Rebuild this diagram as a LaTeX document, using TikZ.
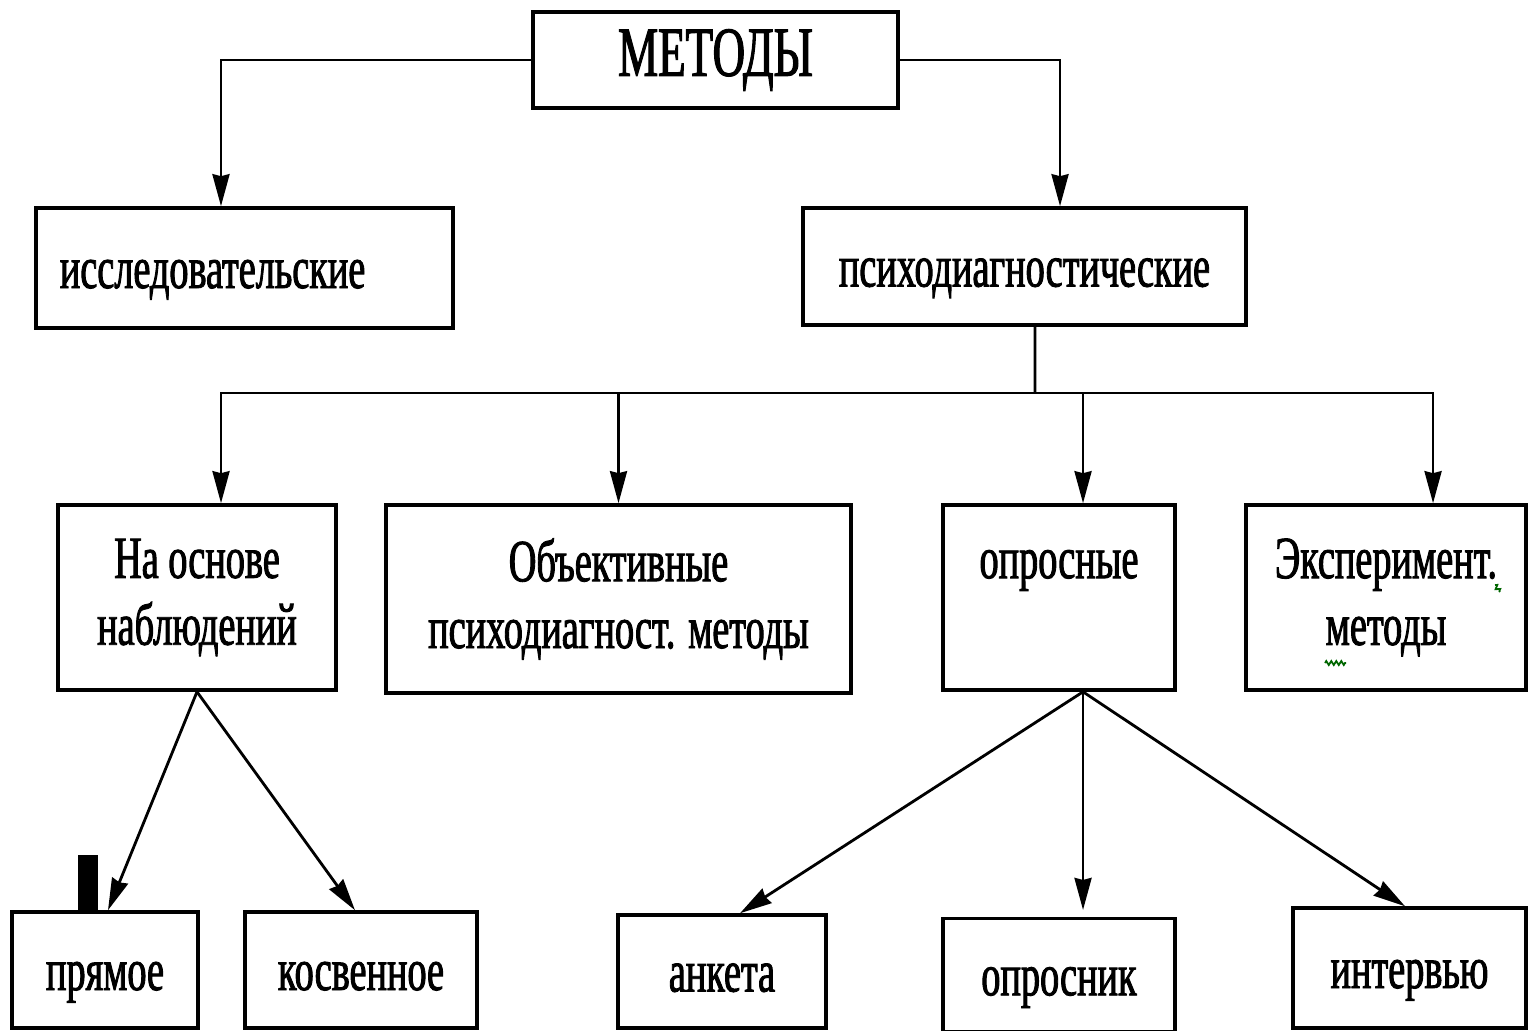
\documentclass[tikz,border=0pt]{standalone}
\usepackage{fontspec}
\setmainfont[FakeStretch=0.64, FakeBold=1.5]{Liberation Serif}
\usetikzlibrary{arrows.meta, positioning, decorations.pathmorphing}

\begin{document}
\begin{tikzpicture} [
	x=0.01cm, y=-0.01cm, % one unit = one pixel of the sketch, y down
	>={Stealth[length=0.32cm, width=0.17cm, inset=0.02cm]}, % filled heads
	box/.style={draw, rectangle, line width=1pt, inner sep=0pt, align=center, font=\fontsize{17}{19}\selectfont}, % every frame
	word/.style={box, text height=0.4cm, text depth=0pt}, % one-line frames, text a bit low
	arr/.style={->, line width=0.8pt}, % connectors
	squiggle/.style={draw=green!40!black, line width=0.5pt, decorate, decoration={zigzag, segment length=0.05cm, amplitude=0.02cm}}, % spell mark
	]
	\useasboundingbox (0,0) rectangle (1528,1030);

	\node[box, minimum width=3.65cm, minimum height=0.96cm, font=\fontsize{20}{22}\selectfont] (metody) at (715.5,60) {МЕТОДЫ};

	\node[word, minimum width=4.17cm, minimum height=1.2cm, text width=3.69cm, inner xsep=0.24cm, align=left] (issl) at (244.5,268) {исследовательские};
	\node[word, minimum width=4.43cm, minimum height=1.17cm] (psy) at (1024.5,266.5) {психодиагностические};

	\node[box, minimum width=2.78cm, minimum height=1.85cm] (nabl) at (197,597.5) {На основе\\наблюдений};
	\node[box, minimum width=4.65cm, minimum height=1.88cm] (obj) at (618.5,599) {Объективные\\психодиагност. методы};
	\node[box, minimum width=2.32cm, minimum height=1.85cm] (opr) at (1059,597.5) {опросные\\\mbox{}};
	\node[box, minimum width=2.80cm, minimum height=1.85cm] (exp) at (1386,597.5) {Эксперимент.\\методы};

	\node[word, minimum width=1.86cm, minimum height=1.16cm] (pryam) at (105,970) {прямое};
	\node[word, minimum width=2.32cm, minimum height=1.16cm] (kosv) at (361,970) {косвенное};
	\node[word, minimum width=2.08cm, minimum height=1.13cm] (anketa) at (722,971.5) {анкета};
	\node[word, minimum width=2.32cm, minimum height=1.13cm, below=2.25cm of opr] (oprosnik) {опросник};
	\node[word, minimum width=2.33cm, minimum height=1.2cm] (interv) at (1409.5,968) {интервью};

	\fill (78,855) rectangle (98,912);
	\path[squiggle] (1325,663) -- (1346,663);
	\path[squiggle] (1495,585) -- (1500,592);

	\coordinate (bus) at (1035,393);

	\draw[arr] (metody.west) -| ([xshift=-0.235cm]issl.north);
	\draw[arr] (metody.east) -| ([xshift=0.355cm]psy.north);
	\draw[line width=0.8pt] ([xshift=0.105cm]psy.south) -- (bus);
	\draw[line width=0.8pt] (bus) -- ++(-8.14cm,0);
	\foreach \t/\dx in {nabl/0.24, obj/0, opr/0.24, exp/0.47}
		\draw[arr] (bus) -| ([xshift=\dx cm]\t.north);

	\draw[arr] (nabl.south) -- ([xshift=0.03cm]pryam.north);
	\draw[arr] (nabl.south) -- ([xshift=-0.06cm]kosv.north);

	\draw[arr] ([xshift=0.24cm]opr.south) -- ([xshift=0.18cm]anketa.north);
	\draw[arr] ([xshift=0.24cm]opr.south) -- ([xshift=0.24cm, yshift=0.07cm]oprosnik.north);
	\draw[arr] ([xshift=0.24cm]opr.south) -- ([xshift=-0.045cm]interv.north);
\end{tikzpicture}
\end{document}
